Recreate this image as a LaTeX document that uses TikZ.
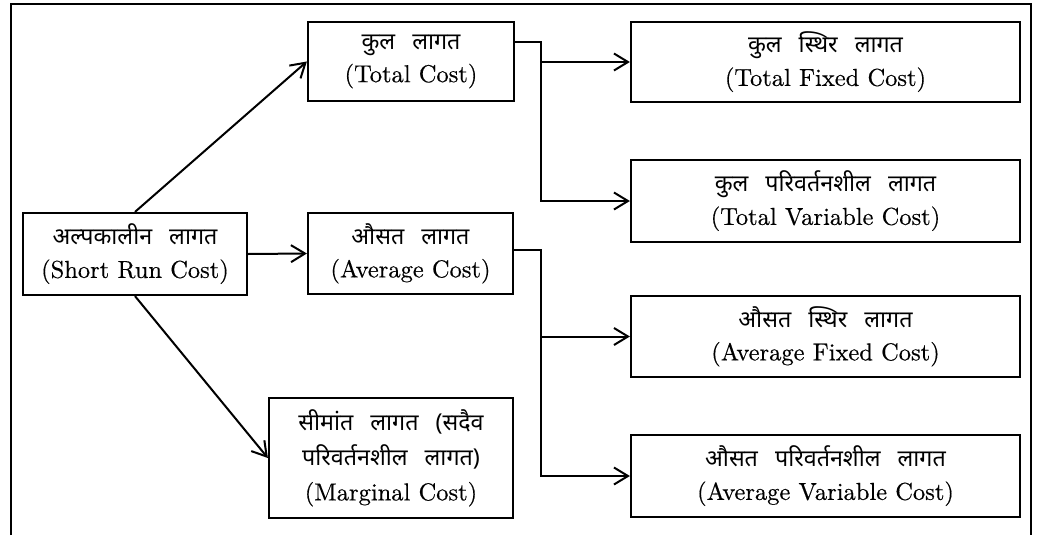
\documentclass[tikz,border=0pt]{standalone}
\usepackage{fontspec}
\setmainfont{lmroman10-regular.otf}[FakeBold=0.4]
\newfontfamily\devafont[Script=Devanagari,Scale=0.95]{Noto Sans}
\usetikzlibrary{arrows.meta}
\newcommand\hin[1]{{\devafont #1}}
\newcommand\wgap{\hspace{11pt}}
\begin{document}
\begin{tikzpicture}[x=1pt,y=-1pt,
  costbox/.style={draw,line width=2.2pt,inner sep=0pt,align=center,
    font=\fontsize{24.5}{33}\selectfont},
  link/.style={line width=2pt},
  arr/.style={link,-{Straight Barb[length=14pt,width=17pt,line width=2pt]}}]
\useasboundingbox (0,0) rectangle (1040,535);
% outer frame, open at the bottom
\draw[line width=2.5pt] (11,535) -- (11,4) -- (1031,4) -- (1031,535);
% boxes
\node[costbox,minimum width=224pt,minimum height=82pt] (src) at (135,254)
  {\hin{अल्पकालीन \wgap लागत}\\(Short Run Cost)};
\node[costbox,minimum width=206pt,minimum height=79pt] (tc) at (411,61.5)
  {\hin{कुल \wgap लागत}\\(Total Cost)};
\node[costbox,minimum width=205pt,minimum height=81pt] (ac) at (410.5,253.5)
  {\hin{औसत \wgap लागत}\\(Average Cost)};
\node[costbox,minimum width=244pt,minimum height=120pt,
  font=\fontsize{24.5}{35}\selectfont] (mc) at (391,458)
  {\hin{सीमांत \wgap लागत \wgap (सदैव}\\\hin{परिवर्तनशील \wgap लागत)}\\(Marginal Cost)};
\node[costbox,minimum width=389pt,minimum height=80pt] (tfc) at (825.5,62)
  {\hin{कुल \wgap स्थिर \wgap लागत}\\(Total Fixed Cost)};
\node[costbox,minimum width=389pt,minimum height=82pt] (tvc) at (825.5,201)
  {\hin{कुल \wgap परिवर्तनशील \wgap लागत}\\(Total Variable Cost)};
\node[costbox,minimum width=389pt,minimum height=81pt] (afc) at (825.5,336.5)
  {\hin{औसत \wgap स्थिर \wgap लागत}\\(Average Fixed Cost)};
\node[costbox,minimum width=389pt,minimum height=82pt] (avc) at (825.5,476)
  {\hin{औसत \wgap परिवर्तनशील \wgap लागत}\\(Average Variable Cost)};
% branches from the short run cost
\draw[arr] (src.north) -- (tc.west);
\draw[arr] (src.east) -- (ac.west);
\draw[arr] (src.south) -- (mc.west);
% total cost splits into fixed and variable parts
\coordinate (bt) at (541,42);
\draw[arr] (tc.east |- bt) -- (bt) |- (tvc.west);
\draw[arr] (bt |- tfc.west) -- (tfc.west);
% average cost splits into fixed and variable parts
\coordinate (ba) at (541,250);
\draw[arr] (ac.east |- ba) -- (ba) |- (avc.west);
\draw[arr] (ba |- afc.west) -- (afc.west);
\end{tikzpicture}
\end{document}
